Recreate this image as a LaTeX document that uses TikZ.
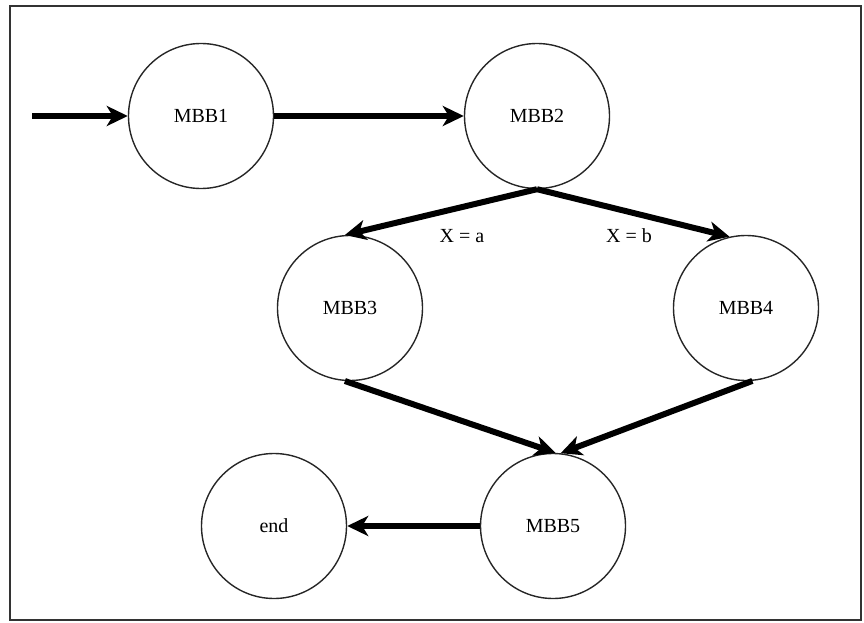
\documentclass[tikz,border=0pt]{standalone}
\usepackage{fontspec}
\setmainfont{Liberation Serif}
\usetikzlibrary{arrows.meta}
\begin{document}
\begin{tikzpicture}[x=1pt,y=-1pt,
  state/.style={circle,draw=black!85,line width=1.4pt,minimum size=145pt,inner sep=0pt,
    font=\fontsize{20}{24}\selectfont},
  flow/.style={line width=6pt,-{Stealth[length=21pt,width=20pt,inset=6pt]}},
  lbl/.style={font=\fontsize{20}{24}\selectfont}]
\useasboundingbox (0,0) rectangle (864,623);
\draw[black!80,line width=2pt] (10,6) rectangle (861,620);
\node[state] (m1) at (201,116) {MBB1};
\node[state] (m2) at (537,116) {MBB2};
\node[state] (m3) at (350,308) {MBB3};
\node[state] (m4) at (746,308) {MBB4};
\node[state] (m5) at (553,526) {MBB5};
\node[state] (e) at (274,526) {end};
\coordinate (in) at (32,116);
\draw[flow] (in) -- (m1.west);
\draw[flow] (m1.east) -- (m2.west);
\draw[flow] (m2.south) -- (m3.94);
\draw[flow] (m2.south) -- (m4.103);
\draw[flow] (m3.266) -- (m5.88);
\draw[flow] (m4.275) -- (m5.84);
\draw[flow] (m5.west) -- (e.east);
\node[lbl] (la) at (462,236) {X = a};
\node[lbl] (lb) at (629,236) {X = b};
\end{tikzpicture}
\end{document}
